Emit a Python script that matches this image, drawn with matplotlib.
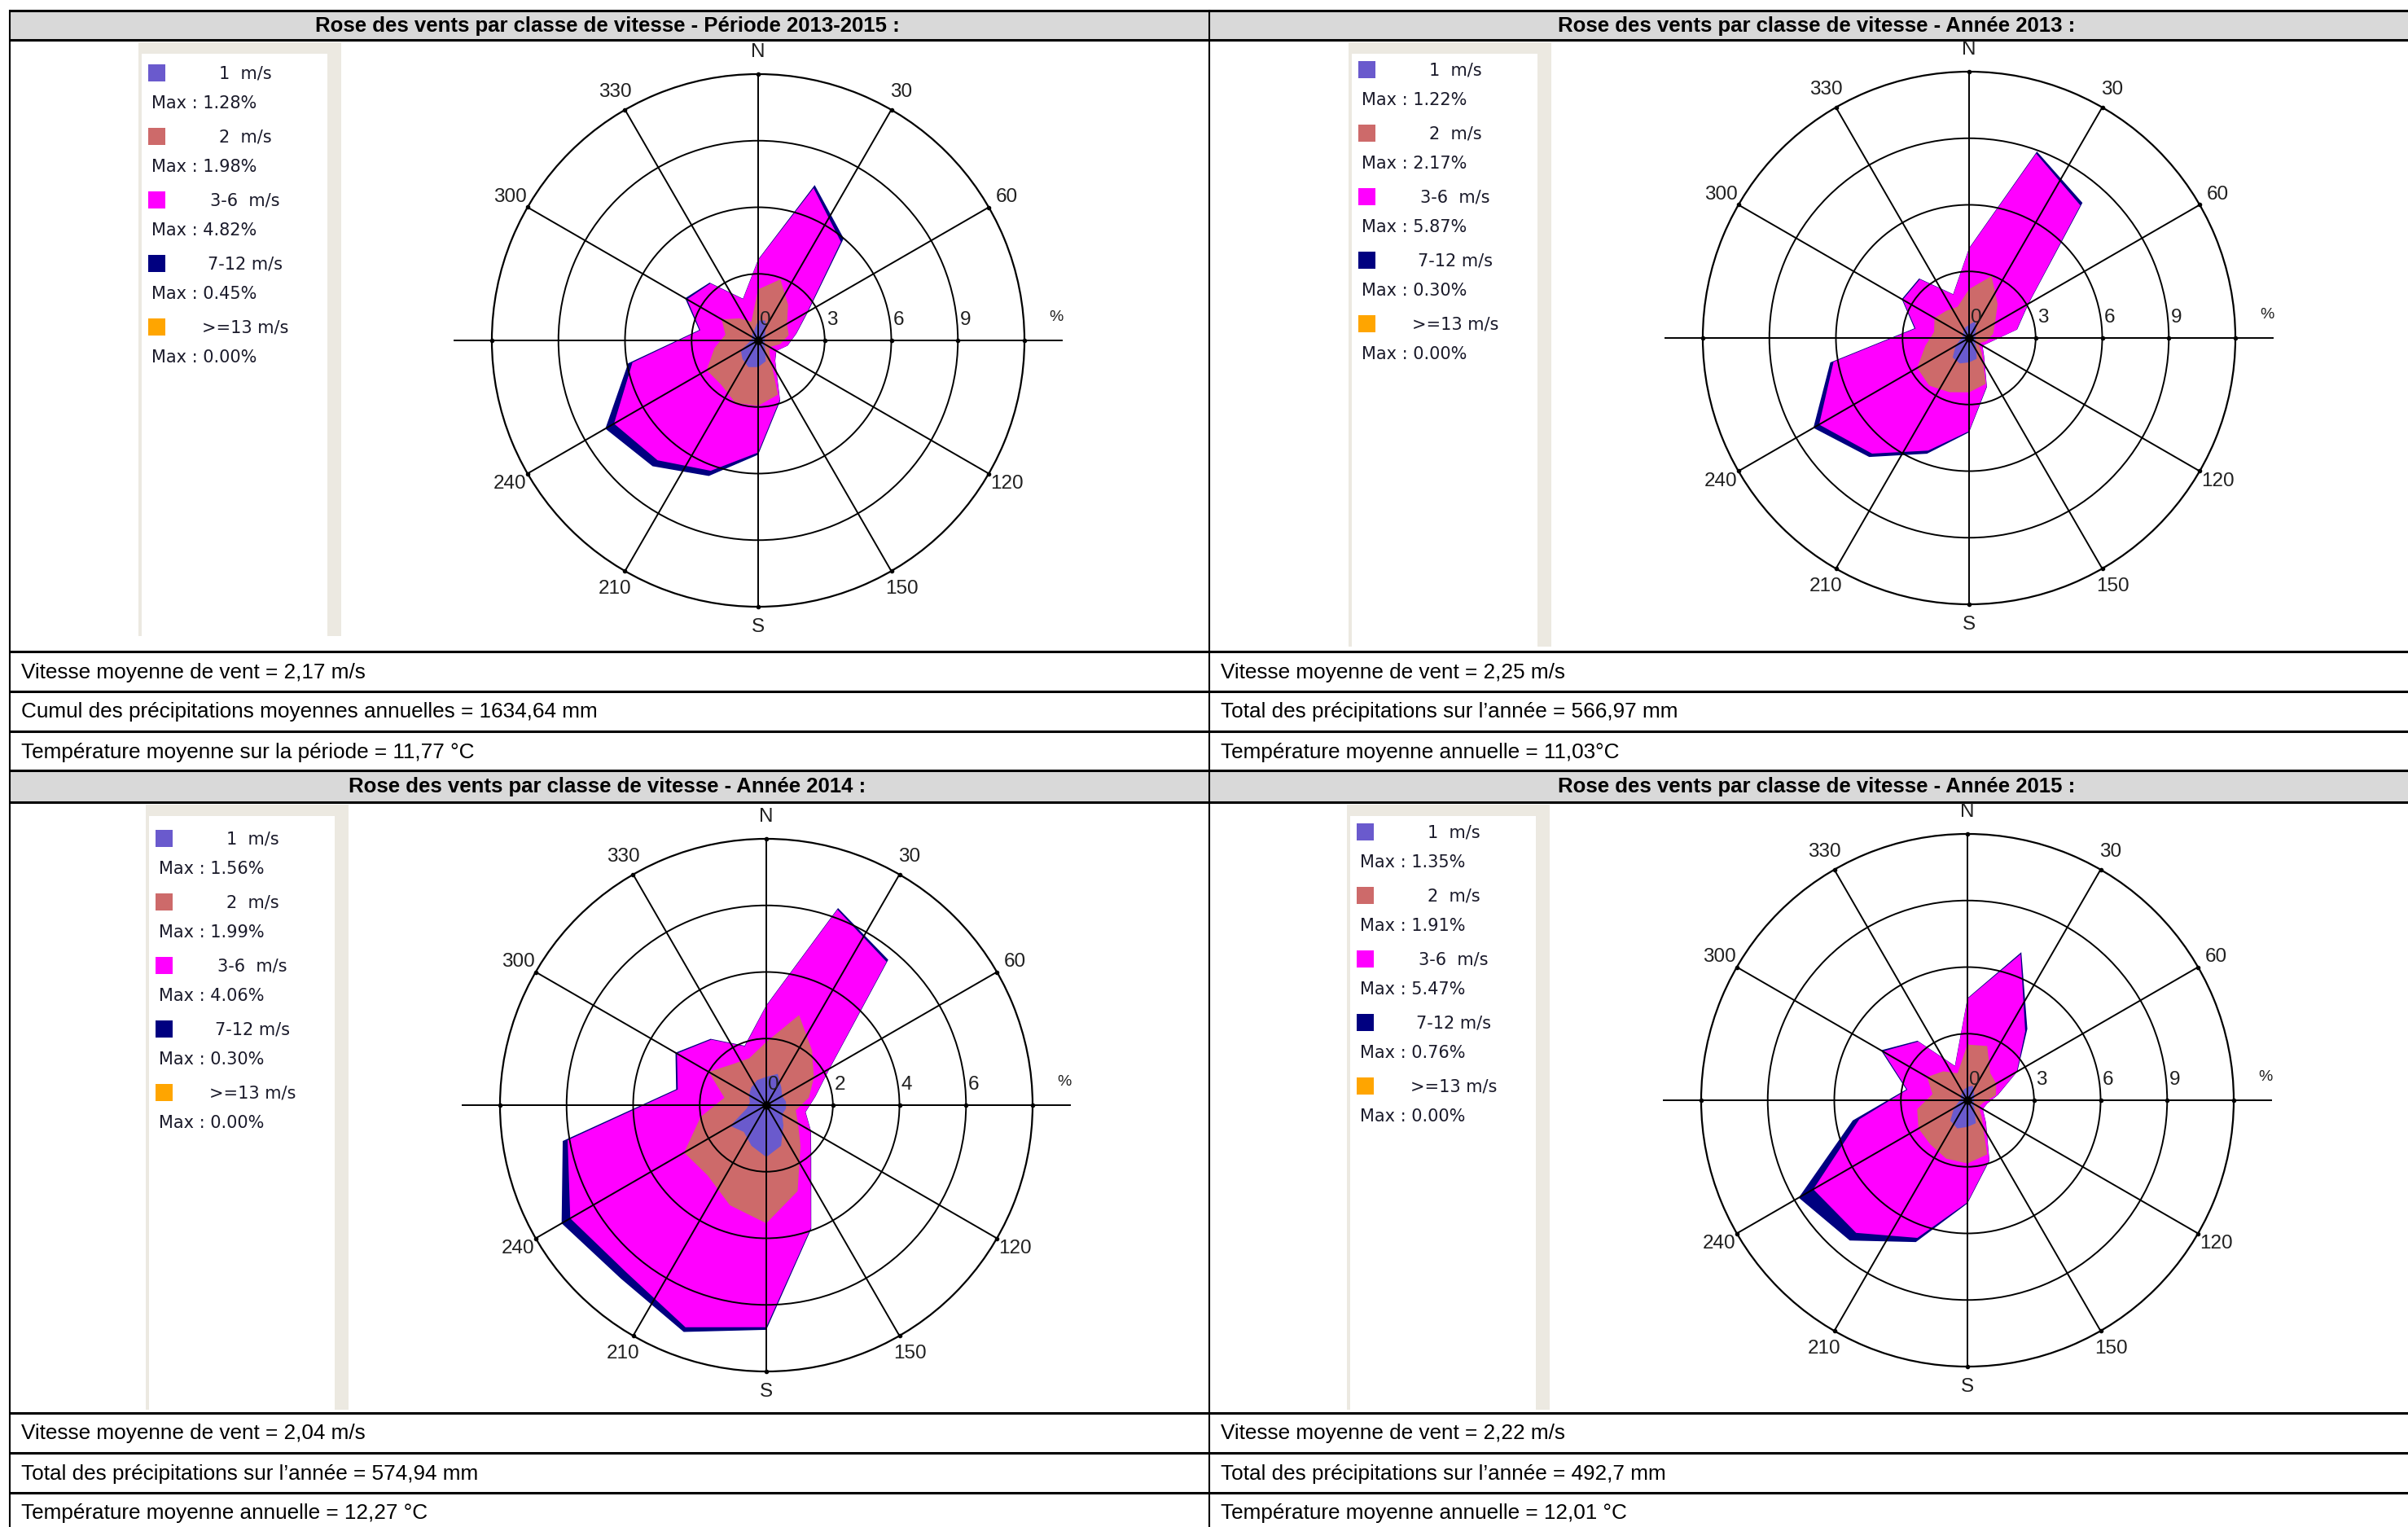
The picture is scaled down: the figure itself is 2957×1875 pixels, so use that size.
import numpy as np
import matplotlib
matplotlib.use("Agg")
import matplotlib.pyplot as plt
from matplotlib.patches import Rectangle

W, H, DPI = 2957, 1875, 100

# 18 direction sectors (degrees, clockwise from north)
directions = np.arange(0, 360, 20)

speed_labels = ["1  m/s", "2  m/s", "3-6  m/s", "7-12 m/s", ">=13 m/s"]
speed_colors = ["#6A5ACD", "#CD6A6A", "#FF00FF", "#000080", "#FFA500"]

# ---- Période 2013-2015 : frequency (%) per sector and speed class
p1315_c1 = [0.9, 0.95, 0.5, 0.35, 0.3, 0.3, 0.3, 0.5, 1.0, 1.2, 1.28, 1.1, 0.9, 0.4, 0.3, 0.3, 0.4, 0.5]
p1315_c2 = [1.4, 1.98, 1.6, 1.15, 1.1, 0.7, 0.3, 0.3, 1.6, 1.75, 1.72, 1.5, 1.78, 1.6, 1.2, 1.6, 0.9, 0.4]
p1315_c3 = [1.32, 4.37, 3.7, 1.05, 0.33, 0.34, 0.34, 0.38, 0.25, 2.1, 3.25, 4.45, 4.82, 3.75, 1.15, 1.8, 2.05, 1.08]
p1315_c4 = [0.03, 0.15, 0.2, 0.05, 0.02, 0.01, 0.01, 0.02, 0.05, 0.1, 0.25, 0.35, 0.45, 0.2, 0.05, 0.1, 0.05, 0.02]
p1315_c5 = [0.0] * 18

# ---- Année 2013
y2013_c1 = [0.6, 0.8, 0.5, 0.3, 0.3, 0.3, 0.3, 0.5, 1.0, 1.1, 1.22, 1.15, 0.7, 0.4, 0.3, 0.3, 0.4, 0.5]
y2013_c2 = [1.6, 2.17, 1.5, 1.05, 0.8, 0.5, 0.2, 0.4, 1.2, 1.35, 1.38, 1.65, 2.0, 1.6, 1.3, 1.5, 1.2, 1.0]
y2013_c3 = [1.82, 5.87, 5.8, 1.72, 1.08, 0.19, 0.19, 0.13, 0.12, 1.75, 2.8, 4.0, 5.1, 4.2, 0.85, 1.65, 1.85, 0.58]
y2013_c4 = [0.03, 0.1, 0.15, 0.03, 0.02, 0.01, 0.01, 0.02, 0.03, 0.05, 0.15, 0.2, 0.3, 0.15, 0.05, 0.05, 0.05, 0.02]
y2013_c5 = [0.0] * 18

# ---- Année 2014
y2014_c1 = [0.85, 1.0, 0.7, 0.55, 0.6, 0.6, 0.55, 0.8, 1.3, 1.56, 1.3, 1.05, 1.25, 0.6, 0.5, 0.6, 0.7, 0.8]
y2014_c2 = [1.05, 1.88, 1.44, 1.1, 0.7, 0.3, 0.55, 0.8, 1.45, 1.99, 1.9, 1.7, 1.6, 1.4, 0.78, 1.4, 0.9, 0.7]
y2014_c3 = [1.08, 3.37, 3.48, 0.53, 0.19, 0.29, 0.44, 0.48, 1.17, 3.12, 3.9, 3.8, 3.95, 4.06, 1.42, 1.1, 0.97, 0.38]
y2014_c4 = [0.02, 0.05, 0.08, 0.02, 0.01, 0.01, 0.01, 0.02, 0.03, 0.08, 0.15, 0.25, 0.3, 0.15, 0.05, 0.05, 0.03, 0.02]
y2014_c5 = [0.0] * 18

# ---- Année 2015
y2015_c1 = [0.6, 0.7, 0.45, 0.35, 0.3, 0.3, 0.3, 0.5, 1.1, 1.2, 1.35, 1.2, 0.7, 0.4, 0.3, 0.35, 0.4, 0.5]
y2015_c2 = [1.91, 1.9, 1.15, 1.15, 1.0, 0.4, 0.3, 0.5, 1.5, 1.65, 1.45, 1.4, 1.85, 1.9, 1.3, 1.75, 1.3, 0.8]
y2015_c3 = [2.06, 4.4, 2.45, 1.07, 0.08, 0.19, 0.19, 0.28, 0.27, 1.75, 3.8, 5.2, 5.47, 2.65, 1.15, 2.3, 1.75, 0.33]
y2015_c4 = [0.03, 0.1, 0.15, 0.03, 0.02, 0.01, 0.01, 0.02, 0.03, 0.05, 0.2, 0.45, 0.76, 0.3, 0.05, 0.1, 0.05, 0.02]
y2015_c5 = [0.0] * 18

titles = [
    "Rose des vents par classe de vitesse - Période 2013-2015 :",
    "Rose des vents par classe de vitesse - Année 2013 :",
    "Rose des vents par classe de vitesse - Année 2014 :",
    "Rose des vents par classe de vitesse - Année 2015 :",
]
stats = [
    ["Vitesse moyenne de vent = 2,17 m/s",
     "Cumul des précipitations moyennes annuelles = 1634,64 mm",
     "Température moyenne sur la période = 11,77 °C"],
    ["Vitesse moyenne de vent = 2,25 m/s",
     "Total des précipitations sur l’année = 566,97 mm",
     "Température moyenne annuelle = 11,03°C"],
    ["Vitesse moyenne de vent = 2,04 m/s",
     "Total des précipitations sur l’année = 574,94 mm",
     "Température moyenne annuelle = 12,27 °C"],
    ["Vitesse moyenne de vent = 2,22 m/s",
     "Total des précipitations sur l’année = 492,7 mm",
     "Température moyenne annuelle = 12,01 °C"],
]
ring_steps = [3, 3, 2, 3]

roses = [
    [p1315_c1, p1315_c2, p1315_c3, p1315_c4, p1315_c5],
    [y2013_c1, y2013_c2, y2013_c3, y2013_c4, y2013_c5],
    [y2014_c1, y2014_c2, y2014_c3, y2014_c4, y2014_c5],
    [y2015_c1, y2015_c2, y2015_c3, y2015_c4, y2015_c5],
]

# layout of each cell (pixels): rose centre, legend panel box, first legend row
cells = [
    dict(col=0, block=0, cx=931, cy=418, leg=(170, 52, 781, 90)),
    dict(col=1, block=0, cx=2418, cy=415, leg=(1656, 52, 794, 86)),
    dict(col=0, block=1, cx=941, cy=1357, leg=(179, 988, 1731, 1030)),
    dict(col=1, block=1, cx=2416, cy=1351, leg=(1654, 988, 1731, 1022)),
]

TEXT_FONT = "Liberation Sans"
LEG_FONT = "DejaVu Sans"

fig = plt.figure(figsize=(W / DPI, H / DPI), dpi=DPI)
fig.patch.set_facecolor("white")
bg = fig.add_axes([0, 0, 1, 1])
bg.set_xlim(0, W)
bg.set_ylim(H, 0)
bg.axis("off")

# ---- table frame
X_LEFT, X_MID, X_RIGHT = 12, 1485, W + 20
col_left = [X_LEFT, X_MID]
col_center = [746, 2231]
blocks = [(13, 49, 800), (946, 985, 1735)]
ROW_H = 49

for top, head_bottom, chart_bottom in blocks:
    bg.add_patch(Rectangle((X_LEFT, top), X_RIGHT - X_LEFT, head_bottom - top,
                           facecolor="#D9D9D9", edgecolor="none", zorder=0))
    for y in [top, head_bottom, chart_bottom, chart_bottom + ROW_H, chart_bottom + 2 * ROW_H]:
        bg.plot([X_LEFT, X_RIGHT], [y, y], color="black", lw=2.2, solid_capstyle="butt", zorder=3)
for x in [X_LEFT, X_MID]:
    bg.plot([x, x], [13, H + 5], color="black", lw=1.5, zorder=3)

for i, cell in enumerate(cells):
    top, head_bottom, chart_bottom = blocks[cell["block"]]
    c = cell["col"]
    bg.text(col_center[c], (top + head_bottom) / 2 + 1, titles[i], ha="center", va="center",
            fontsize=18.5, fontweight="bold", family=TEXT_FONT, color="black", zorder=4)
    for k, line in enumerate(stats[i]):
        yc = chart_bottom + ROW_H * k + ROW_H / 2 + 1
        bg.text(col_left[c] + 14, yc, line, ha="left", va="center",
                fontsize=18.8, family=TEXT_FONT, color="black", zorder=4)

    # ---- legend panel
    x0, y0, y1, first = cell["leg"]
    bg.add_patch(Rectangle((x0, y0), 249, y1 - y0, facecolor="#ECE9E1", edgecolor="none", zorder=1))
    bg.add_patch(Rectangle((x0 + 4, y0 + 14), 249 - 4 - 17, y1 - y0 - 14,
                           facecolor="white", edgecolor="none", zorder=1.5))
    classes = roses[i]
    for k in range(5):
        yc = first + 78 * k
        bg.add_patch(Rectangle((x0 + 12, yc - 11), 21, 21, facecolor=speed_colors[k],
                               edgecolor="none", zorder=2))
        bg.text(x0 + 131, yc, speed_labels[k], ha="center", va="center",
                fontsize=15, family=LEG_FONT, color="#1a1a2a", zorder=2)
        bg.text(x0 + 16, yc + 37, "Max : %.2f%%" % max(classes[k]), ha="left", va="center",
                fontsize=15, family=LEG_FONT, color="#1a1a2a", zorder=2)

# ---- wind roses
R = 327
theta = np.radians(directions)
spokes = np.radians(np.arange(0, 360, 30))
LABEL_FONT = dict(family=TEXT_FONT, fontsize=17.5, color="#202020")

for i, cell in enumerate(cells):
    step = ring_steps[i]
    rmax = 4 * step
    rings = [step, 2 * step, 3 * step]
    cx, cy = cell["cx"], cell["cy"]
    ax = fig.add_axes([(cx - R) / W, 1 - (cy + R) / H, 2 * R / W, 2 * R / H], projection="polar")
    ax.set_theta_zero_location("N")
    ax.set_theta_direction(-1)
    ax.set_facecolor("none")
    ax.set_ylim(0, rmax)

    cum = np.cumsum(np.array(roses[i], dtype=float), axis=0)
    for k in range(4, -1, -1):
        if max(roses[i][k]) > 0:
            ax.fill(theta, cum[k], color=speed_colors[k], lw=0, zorder=1)

    ax.set_xticks(spokes)
    ax.set_xticklabels([])
    ax.set_yticks(rings)
    ax.set_yticklabels([])
    ax.grid(True, color="black", lw=1.4)
    ax.set_axisbelow(False)
    ax.spines["polar"].set_linewidth(1.6)
    ax.tick_params(length=0)

    # east-west axis running past the outer circle
    ax.plot([np.pi / 2, 3 * np.pi / 2], [rmax * 1.14, rmax * 1.14], color="black",
            lw=1.4, clip_on=False, zorder=3)
    ax.plot(spokes, [rmax] * len(spokes), "o", ms=3, color="black", clip_on=False, zorder=3)
    ax.plot([np.pi / 2] * 3, rings, "o", ms=3, color="black", zorder=3)
    ax.plot([0], [0], "o", ms=6.5, color="black", zorder=4)

    for ang in range(30, 360, 30):
        if ang in (90, 270, 180):
            continue
        ax.text(np.radians(ang), rmax * 1.077, str(ang), ha="center", va="center",
                clip_on=False, **LABEL_FONT)
    ax.text(0, rmax * 1.083, "N", ha="center", va="center", clip_on=False, **LABEL_FONT)
    ax.text(np.pi, rmax * 1.075, "S", ha="center", va="center", clip_on=False, **LABEL_FONT)
    ax.text(np.radians(85.6), rmax * 1.122, "%", ha="center", va="center", clip_on=False,
            family=TEXT_FONT, fontsize=14, color="#202020")
    for rv in [0] + rings:
        ax.annotate(str(rv), xy=(np.pi / 2, rv), xytext=(9, 25), textcoords="offset pixels",
                    ha="center", va="center", annotation_clip=False, zorder=5, **LABEL_FONT)

fig.savefig("out.png", dpi=DPI, facecolor="white")
